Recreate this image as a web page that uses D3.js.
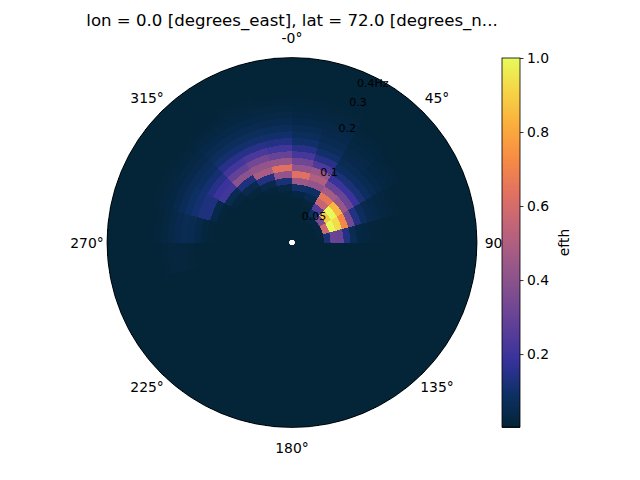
<!DOCTYPE html>
<html>
<head>
<meta charset="utf-8">
<script src="https://cdn.jsdelivr.net/npm/d3@7"></script>
<style>
  html, body { margin: 0; background: #fff; }
  text { font-family: "DejaVu Sans", sans-serif; fill: #000; }
</style>
</head>
<body>
<svg id="chart" width="640" height="480"></svg>
<script>
var titleText = 'lon = 0.0 [degrees_east], lat = 72.0 [degrees_n...';
var cbarLabel = 'efth';
var cbarTicks = [0.2, 0.4, 0.6, 0.8, 1.0];
var angleTicks = [0, 45, 90, 135, 180, 225, 270, 315];
var angleLabels = ['-0°', '45°', '90°', '135°', '180°', '225°', '270°', '315°'];
var radialTicks = [0.05, 0.1, 0.2, 0.3, 0.4];
var radialLabels = ['0.05', '0.1', '0.2', '0.3', '0.4Hz'];
var thermal = ['rgb(3,35,51)', 'rgb(13,48,100)', 'rgb(53,50,155)', 'rgb(93,62,153)', 'rgb(126,77,143)', 'rgb(158,89,135)',
  'rgb(193,100,121)', 'rgb(225,113,97)', 'rgb(246,139,69)', 'rgb(251,173,60)', 'rgb(246,211,70)', 'rgb(231,250,90)'];

// ring edges in Hz
var freqEdges = [0.0334, 0.0381, 0.0419, 0.0461, 0.0507, 0.0558, 0.0613, 0.0675, 0.0742, 0.0816, 0.0898, 0.0988, 0.1087, 0.1195,
  0.1314, 0.1446, 0.1591, 0.1749, 0.1924, 0.2117, 0.2329, 0.2561, 0.2818, 0.31, 0.341, 0.375, 0.4125, 0.4538, 0.462];
var baseLevel = 0.008;

// one array per 15 degree sector, inner ring first
var dir000 = [.008,.008,.008,.008,.008,.01,.03,.1,.45,.63,.42,.32,.22,.15,.1,.07,.055,.04,.03,.022,.016,.012,.01,.008,.008,.008,.008,.008];
var dir015 = [.008,.008,.008,.008,.01,.018,.05,.09,.42,.5,.44,.24,.15,.1,.07,.055,.045,.035,.028,.02,.015,.011,.009,.008,.008,.008,.008,.008];
var dir030 = [.008,.008,.008,.02,.09,.25,.56,.66,.47,.3,.19,.12,.08,.06,.045,.035,.028,.022,.016,.012,.01,.008,.008,.008,.008,.008,.008,.008];
var dir045 = [.008,.008,.008,.02,.35,.88,1,.84,.43,.31,.19,.12,.08,.055,.04,.03,.022,.016,.012,.01,.008,.008,.008,.008,.008,.008,.008,.008];
var dir060 = [.008,.008,.008,.02,.58,1,.93,.72,.34,.14,.08,.05,.035,.027,.02,.015,.012,.01,.008,.008,.008,.008,.008,.008,.008,.008,.008,.008];
var dir075 = [.008,.008,.008,.014,.12,.31,.3,.14,.06,.03,.022,.017,.013,.01,.009,.008,.008,.008,.008,.008,.008,.008,.008,.008,.008,.008,.008,.008];
var dir090 = [.008,.008,.008,.008,.008,.008,.008,.008,.008,.008,.008,.008,.008,.008,.008,.008,.008,.008,.008,.008,.008,.008,.008,.008,.008,.008,.008,.008];
var dir105 = dir090, dir120 = dir090, dir135 = dir090, dir150 = dir090, dir165 = dir090;
var dir180 = dir090, dir195 = dir090, dir210 = dir090, dir225 = dir090, dir240 = dir090;
var dir255 = [.008,.008,.008,.008,.008,.008,.008,.008,.008,.008,.008,.008,.009,.01,.014,.018,.02,.018,.014,.011,.009,.008,.008,.008,.008,.008,.008,.008];
var dir270 = [.008,.008,.008,.008,.008,.008,.008,.008,.008,.009,.01,.014,.022,.04,.055,.06,.05,.035,.025,.016,.011,.009,.008,.008,.008,.008,.008,.008];
var dir285 = [.008,.008,.008,.008,.008,.008,.008,.008,.009,.01,.016,.04,.13,.13,.11,.09,.065,.045,.03,.02,.013,.009,.008,.008,.008,.008,.008,.008];
var dir300 = [.008,.008,.008,.008,.008,.008,.008,.009,.011,.02,.055,.21,.19,.15,.11,.08,.065,.045,.032,.022,.014,.01,.008,.008,.008,.008,.008,.008];
var dir315 = [.008,.008,.008,.008,.008,.008,.009,.011,.018,.05,.13,.4,.29,.21,.15,.105,.075,.055,.04,.026,.017,.012,.009,.008,.008,.008,.008,.008];
var dir330 = [.008,.008,.008,.008,.008,.008,.01,.016,.045,.14,.48,.42,.33,.23,.15,.105,.075,.055,.04,.028,.019,.013,.01,.008,.008,.008,.008,.008];
var dir345 = [.008,.008,.008,.008,.008,.009,.014,.032,.12,.42,.63,.43,.3,.21,.14,.1,.07,.05,.036,.025,.017,.012,.01,.008,.008,.008,.008,.008];

var sectors = [dir000, dir015, dir030, dir045, dir060, dir075, dir090, dir105, dir120, dir135, dir150, dir165,
  dir180, dir195, dir210, dir225, dir240, dir255, dir270, dir285, dir300, dir315, dir330, dir345];

var cx = 292, cy = 242.5, outer = 185;
var svg = d3.select('#chart');

var radius = d3.scaleLog().domain([0.0334, 0.462]).range([3, outer]);
var angle = d3.scaleLinear().domain([0, 360]).range([0, 2 * Math.PI]);
var color = d3.scaleLinear()
  .domain(thermal.map(function(d, i) { return i / (thermal.length - 1); }))
  .range(thermal)
  .interpolate(d3.interpolateRgb)
  .clamp(true);

var arc = d3.arc();
var cells = [];
sectors.forEach(function(values, s) {
  values.forEach(function(v, r) {
    cells.push({ sector: s, ring: r, value: v });
  });
});

var plot = svg.append('g').attr('transform', 'translate(' + cx + ',' + cy + ')');

// disc behind the cells so the seams do not show white
plot.append('path')
  .attr('fill', color(baseLevel))
  .attr('d', arc({ innerRadius: 3, outerRadius: outer, startAngle: 0, endAngle: 2 * Math.PI }));

plot.selectAll('path.cell').data(cells).enter().append('path')
  .attr('class', 'cell')
  .attr('shape-rendering', 'crispEdges')
  .attr('fill', function(d) { return color(d.value); })
  .attr('d', function(d) {
    return arc({
      innerRadius: radius(freqEdges[d.ring]),
      outerRadius: radius(freqEdges[d.ring + 1]),
      startAngle: angle(d.sector * 15),
      endAngle: angle((d.sector + 1) * 15)
    });
  });

plot.append('circle').attr('r', outer).attr('fill', 'none').attr('stroke', '#000').attr('stroke-width', 0.8);

// radial labels sit on the 22.5 degree spoke
plot.selectAll('text.rlabel').data(radialTicks).enter().append('text')
  .attr('class', 'rlabel')
  .attr('font-size', '11px')
  .attr('dominant-baseline', 'central')
  .attr('x', function(d) { return radius(d) * Math.sin(angle(22.5)) - 2; })
  .attr('y', function(d) { return -radius(d) * Math.cos(angle(22.5)) + 3; })
  .text(function(d, i) { return radialLabels[i]; });

plot.selectAll('text.alabel').data(angleTicks).enter().append('text')
  .attr('class', 'alabel')
  .attr('font-size', '13.9px')
  .attr('text-anchor', 'middle')
  .attr('dominant-baseline', 'central')
  .attr('x', function(d) { return (outer + 20) * Math.sin(angle(d)); })
  .attr('y', function(d) { return -(outer + 20) * Math.cos(angle(d)); })
  .text(function(d, i) { return angleLabels[i]; });

svg.append('text')
  .attr('x', 292).attr('y', 25.5)
  .attr('text-anchor', 'middle')
  .attr('font-size', '16.6px')
  .text(titleText);

// colorbar
var barX = 502, barW = 18, barTop = 58, barBottom = 427;
var barScale = d3.scaleLinear().domain([0.003, 1]).range([barBottom, barTop]);
var barSteps = d3.range(barBottom, barTop, -1);

svg.append('rect').attr('x', barX).attr('y', barTop).attr('width', barW).attr('height', barBottom - barTop).attr('fill', '#fff');
svg.selectAll('rect.step').data(barSteps).enter().append('rect')
  .attr('class', 'step')
  .attr('shape-rendering', 'crispEdges')
  .attr('x', barX)
  .attr('y', function(d) { return d - 1; })
  .attr('width', barW)
  .attr('height', 1.5)
  .attr('fill', function(d) { return color(barScale.invert(d)); });

var barAxis = svg.append('g')
  .attr('transform', 'translate(' + (barX + barW) + ',0)')
  .call(d3.axisRight(barScale).tickValues(cbarTicks).tickFormat(d3.format('.1f')).tickSize(3.5).tickPadding(3.5));
barAxis.select('.domain').remove();
barAxis.selectAll('line').attr('stroke', '#000').attr('stroke-width', 0.8);
barAxis.selectAll('text').attr('font-size', '13.9px').attr('font-family', '"DejaVu Sans", sans-serif');

svg.append('rect').attr('x', barX).attr('y', barTop).attr('width', barW).attr('height', barBottom - barTop)
  .attr('fill', 'none').attr('stroke', '#000').attr('stroke-width', 0.8);

svg.append('text')
  .attr('transform', 'translate(564,242.5) rotate(-90)')
  .attr('text-anchor', 'middle')
  .attr('dominant-baseline', 'central')
  .attr('font-size', '13.9px')
  .text(cbarLabel);
</script>
</body>
</html>
